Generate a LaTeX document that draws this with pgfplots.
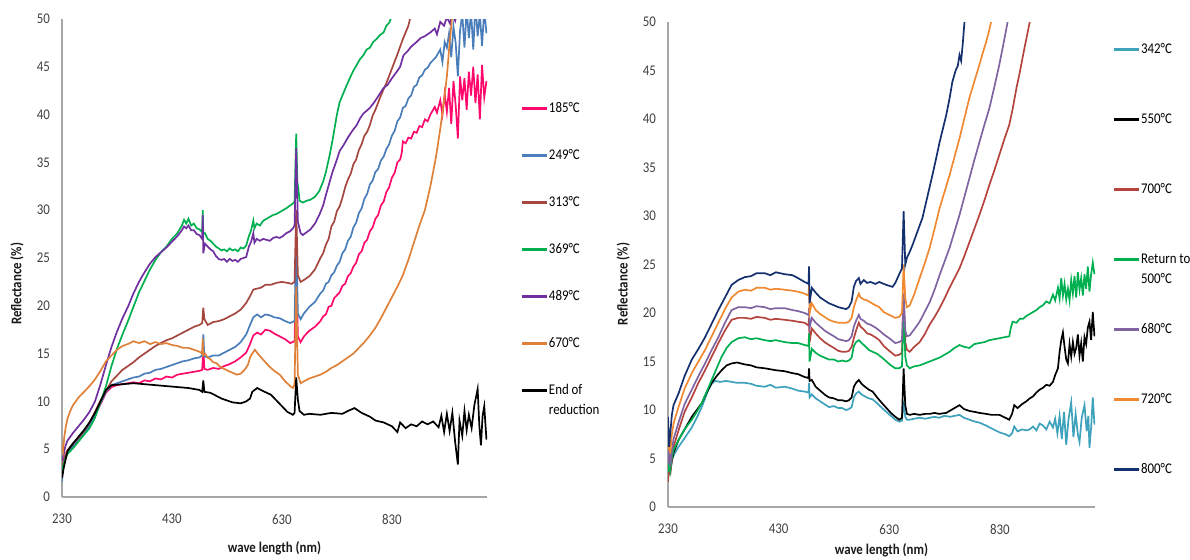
\documentclass[border=0pt]{standalone}
\usepackage{pgfplots}
\pgfplotsset{compat=1.18}
\usepackage{fontspec}
\setmainfont[FakeStretch=0.87]{Carlito}
\definecolor{axisgray}{HTML}{A6A6A6}
\definecolor{tickgray}{HTML}{404040}
\definecolor{cpink}{HTML}{FF0A6C}
\definecolor{cblue}{HTML}{4A7EBB}
\definecolor{cbrown}{HTML}{A5463F}
\definecolor{cgreen}{HTML}{00B050}
\definecolor{cpurple}{HTML}{7030A0}
\definecolor{corange}{HTML}{DF8138}
\definecolor{rteal}{HTML}{3EA2BC}
\definecolor{rbrown}{HTML}{B5443F}
\definecolor{rgreen}{HTML}{00B050}
\definecolor{rpurple}{HTML}{8064A2}
\definecolor{rorange}{HTML}{F08A32}
\definecolor{rnavy}{HTML}{14306E}
\tikzset{lt/.style={text height=6pt,text depth=1.5pt}}
\pgfplotsset{legend image code/.code={\draw[#1,line width=1.3pt] (0pt,0pt) -- (12.5pt,0pt);}}
\pgfplotsset{myax/.style={
  scale only axis, xmin=230, xmax=1003, ymin=0, ymax=50,
  axis x line=bottom, axis y line=left,
  axis line style={-, draw=axisgray, line width=0.7pt},
  xtick={230,430,630,830}, ytick={0,5,...,50},
  major tick length=0pt,
  tick label style={font=\fontsize{7.4}{8}\selectfont, text=tickgray},
  /pgf/number format/assume math mode=true,
  xticklabel style={yshift=-5pt},
  yticklabel style={xshift=-2.5pt},
  label style={font=\bfseries\fontsize{7.4}{8}\selectfont, text=black!90},
  xlabel={wave length (nm)}, ylabel={Reflectance (\%)},
  every axis plot/.append style={line width=0.85pt, mark=none},
  legend style={draw=none, fill=none, inner sep=0pt, anchor=north west,
    font=\fontsize{7.4}{10}\selectfont, cells={anchor=west}, nodes={inner sep=0.5pt}},
  legend cell align=left}}
\begin{document}
\begin{tikzpicture}
\path[use as bounding box] (0pt,0pt) rectangle (595pt,279.5pt);
% ---------------- left panel
\begin{axis}[myax, at={(31pt,31pt)}, anchor=south west, width=212.5pt, height=239pt,
  xlabel style={at={(axis description cs:0.5,-0.1067)}, anchor=center},
  ylabel style={at={(axis description cs:-0.106,0.446)}, anchor=center},
  legend style={at={(axis description cs:1.0776,0.8316)}, row sep=15pt}]
\addplot[cpink] coordinates {(230,1.8)(232,3.5)(236,4.3)(240,4.8)(250,5.5)(260,6.1)(270,6.8)(280,7.6)(290,8.6)(300,9.7)(310,10.9)(320,11.5)(330,11.7)(340,11.8)(350,11.9)(360,12.0)(370,11.9)(380,12.2)(390,12.1)(400,12.4)(410,12.3)(420,12.6)(430,12.5)(440,12.8)(450,12.9)(460,13.0)(470,13.1)(480,13.2)(485,13.3)(487,15.5)(489,13.4)(495,13.3)(505,13.5)(515,13.4)(525,13.7)(535,13.9)(545,14.2)(555,14.6)(565,15.1)(572,16.0)(578,16.9)(585,17.2)(592,17.0)(600,17.5)(608,17.4)(616,17.1)(626,16.8)(636,16.5)(645,16.1)(653,16.3)(656,24.0)(659,16.8)(664,16.2)(670,16.8)(680,17.4)(690,17.8)(700,18.4)(705,18.9)(710,19.1)(715,19.9)(720,20.0)(725,20.8)(730,21.1)(735,21.4)(740,22.1)(745,22.3)(750,23.1)(755,23.4)(760,24.1)(765,24.5)(770,25.4)(775,25.7)(780,26.6)(785,26.9)(790,27.8)(795,28.2)(800,29.1)(805,29.5)(810,30.5)(815,30.9)(820,31.9)(825,32.4)(830,33.4)(835,33.9)(840,35.0)(845,35.3)(848,36.0)(850,37.2)(855,37.0)(860,37.6)(865,37.5)(870,38.2)(875,38.1)(880,38.8)(885,38.7)(890,39.5)(895,39.3)(900,40.0)(908,40.8)(912,40.2)(918,41.5)(922,40.0)(926,42.2)(930,40.3)(934,42.8)(938,39.0)(942,43.5)(946,41.0)(950,37.5)(954,44.0)(958,41.5)(962,43.8)(966,40.5)(970,44.5)(974,42.0)(978,45.0)(982,41.2)(986,44.2)(990,39.5)(994,45.2)(998,41.8)(1002,43.5)};
\addlegendentry[lt]{185°C}
\addplot[cblue] coordinates {(230,1.6)(232,3.3)(236,4.2)(240,4.7)(250,5.3)(260,5.9)(270,6.6)(280,7.5)(290,8.6)(300,9.8)(310,11.0)(320,11.7)(330,11.9)(340,12.1)(350,12.3)(360,12.5)(370,12.6)(380,12.9)(390,13.0)(400,13.3)(410,13.4)(420,13.6)(430,13.8)(440,14.0)(450,14.2)(460,14.3)(470,14.5)(480,14.6)(485,14.8)(487,17.0)(489,14.7)(495,14.6)(505,14.8)(515,14.8)(525,15.1)(535,15.4)(545,15.7)(555,16.2)(565,17.0)(572,18.0)(578,18.8)(585,19.1)(592,18.8)(600,19.1)(608,19.0)(616,18.8)(626,18.7)(636,18.4)(645,18.2)(653,18.4)(656,27.0)(659,19.2)(664,18.6)(670,19.2)(680,19.9)(690,20.4)(700,21.3)(705,21.6)(710,22.3)(715,22.5)(720,23.2)(725,23.5)(730,24.2)(735,24.6)(740,25.5)(745,25.9)(750,26.8)(755,27.2)(760,28.2)(765,28.7)(770,29.7)(775,30.2)(780,31.2)(785,31.7)(790,32.7)(795,33.1)(800,34.0)(805,34.3)(810,35.2)(815,35.6)(820,36.4)(825,36.9)(830,37.8)(835,38.3)(840,39.3)(845,39.7)(850,40.7)(855,40.9)(860,41.7)(865,42.0)(870,42.9)(875,43.1)(880,43.9)(885,44.1)(890,44.7)(895,44.9)(900,45.4)(910,46.0)(918,46.8)(922,45.5)(926,47.6)(930,47.0)(934,48.5)(938,46.0)(942,49.2)(946,47.5)(950,44.0)(954,48.8)(958,50.5)(962,47.0)(966,51.0)(970,48.0)(974,50.8)(978,46.8)(982,51.5)(986,48.2)(990,50.5)(994,47.2)(998,51.0)(1002,48.5)};
\addlegendentry[lt]{249°C}
\addplot[cbrown] coordinates {(230,2.2)(232,3.5)(236,4.4)(240,4.9)(250,5.6)(260,6.2)(270,6.9)(280,7.8)(290,8.9)(300,10.1)(310,11.1)(320,12.1)(330,12.7)(340,13.3)(350,13.7)(360,14.1)(370,14.6)(380,15.0)(390,15.4)(400,15.8)(410,16.1)(420,16.4)(430,16.6)(440,16.9)(450,17.2)(460,17.5)(470,17.8)(480,18.0)(485,18.2)(487,19.8)(489,18.6)(495,18.0)(505,18.3)(515,18.4)(525,18.6)(535,18.9)(545,19.2)(555,19.6)(565,20.3)(572,21.0)(578,21.7)(585,21.8)(592,21.9)(600,22.2)(610,22.2)(620,22.4)(630,22.5)(640,22.4)(648,22.3)(653,22.5)(656,30.0)(659,23.2)(664,22.5)(670,22.7)(680,23.1)(690,23.8)(700,25.0)(705,25.5)(710,26.4)(715,27.0)(720,28.3)(725,28.8)(730,29.9)(735,30.4)(740,31.3)(745,32.4)(750,33.2)(755,33.8)(760,34.8)(765,35.3)(770,36.3)(775,36.9)(780,37.8)(785,38.2)(790,38.9)(795,39.9)(800,40.5)(810,42.0)(820,43.3)(830,44.8)(840,46.3)(850,47.9)(860,49.3)(865,50.5)(870,52)};
\addlegendentry[lt]{313°C}
\addplot[cgreen] coordinates {(230,2.5)(232,3.2)(236,4.0)(240,4.5)(250,5.1)(260,5.8)(270,6.5)(280,7.2)(290,8.3)(300,9.9)(310,11.6)(320,13.7)(330,15.5)(340,17.0)(350,18.4)(360,19.9)(370,21.4)(380,22.6)(390,23.8)(400,24.8)(410,25.6)(420,26.2)(430,27.0)(440,27.6)(448,28.4)(452,29.0)(456,28.6)(460,29.1)(465,28.4)(470,28.6)(475,28.1)(480,28.0)(485,27.7)(486,30.0)(487,27.5)(490,27.6)(495,27.0)(500,26.8)(505,26.5)(510,26.2)(515,26.0)(520,25.8)(525,25.9)(530,25.7)(535,26.0)(540,25.8)(545,25.9)(550,25.7)(555,26.1)(560,26.0)(565,26.3)(570,27.3)(574,27.9)(578,28.9)(580,28.1)(584,28.6)(590,28.4)(596,28.9)(602,29.1)(608,29.3)(614,29.5)(620,29.6)(626,29.8)(632,30.0)(638,30.2)(645,30.5)(650,30.7)(653,30.9)(656,38.0)(658,33.0)(660,32.2)(662,31.0)(668,30.8)(675,31.0)(682,31.1)(690,31.4)(698,32.0)(705,33.0)(710,34.0)(717,35.8)(722,37.3)(730,40.0)(735,41.3)(740,42.0)(748,43.1)(755,44.0)(760,44.6)(766,45.2)(772,45.8)(778,46.2)(784,46.8)(790,47.0)(796,47.6)(802,47.9)(808,48.3)(815,48.6)(820,49.3)(825,49.6)(830,50.3)(835,51)};
\addlegendentry[lt]{369°C}
\addplot[cpurple] coordinates {(230,3.8)(232,4.2)(236,5.3)(240,5.9)(250,6.7)(260,7.4)(270,8.1)(280,8.9)(290,10.0)(300,11.8)(310,13.8)(320,15.7)(330,17.3)(340,18.7)(350,19.9)(360,21.3)(370,22.5)(380,23.5)(390,24.4)(400,25.1)(410,25.6)(420,26.1)(430,26.7)(440,27.3)(448,27.9)(452,28.3)(456,28.1)(460,28.4)(465,27.9)(470,27.9)(475,27.5)(480,27.4)(485,27.0)(486,29.5)(487,25.5)(490,26.5)(495,26.2)(500,25.9)(505,25.7)(510,25.2)(515,24.9)(520,24.8)(525,24.9)(530,24.6)(535,24.9)(540,24.7)(545,24.8)(550,24.6)(555,24.9)(560,25.0)(565,25.1)(570,26.2)(574,26.7)(578,27.6)(580,26.6)(584,27.0)(590,26.8)(596,27.0)(602,26.9)(608,26.8)(614,27.1)(620,27.2)(626,27.1)(632,27.3)(638,27.6)(645,27.8)(650,28.1)(653,28.4)(656,36.5)(659,28.8)(664,27.6)(668,27.4)(675,27.7)(682,28.0)(690,28.6)(698,29.5)(705,30.5)(710,31.6)(717,33.0)(722,34.0)(730,35.3)(735,36.2)(742,36.8)(750,37.6)(758,38.3)(766,38.9)(772,39.6)(778,40.1)(784,40.4)(790,40.7)(798,41.3)(806,42.0)(815,42.8)(822,43.1)(830,43.8)(839,44.5)(845,45.0)(851,46.2)(858,46.6)(865,47.1)(875,47.6)(882,48.0)(890,48.2)(900,48.6)(908,49.0)(912,48.4)(918,49.7)(925,49.3)(930,50.2)(936,49.5)(940,50.6)(945,49.8)(950,51)(960,52)(1002,52)};
\addlegendentry[lt]{489°C}
\addplot[corange] coordinates {(230,5.5)(232,4.8)(234,6.2)(237,7.4)(240,8.2)(245,9.0)(250,9.6)(260,10.4)(270,11.0)(280,11.6)(290,12.3)(300,13.2)(310,14.2)(320,14.8)(330,15.4)(340,15.8)(350,16.0)(360,16.3)(370,16.1)(380,16.3)(390,16.0)(400,16.2)(410,16.0)(420,16.1)(430,15.9)(440,15.8)(450,15.6)(460,15.6)(470,15.4)(480,15.2)(485,15.0)(486,16.6)(487,14.8)(490,15.0)(495,14.6)(500,14.4)(505,14.1)(511,14.0)(518,13.6)(525,13.4)(532,13.2)(540,13.0)(548,12.8)(555,12.9)(562,13.3)(568,13.8)(572,14.6)(576,15.0)(581,15.4)(586,15.0)(592,14.6)(600,14.1)(608,13.6)(616,13.2)(626,12.8)(636,12.1)(645,11.6)(650,11.4)(653,11.8)(656,22.0)(659,12.8)(664,11.9)(670,12.1)(680,12.4)(690,12.6)(700,12.8)(710,13.1)(720,13.5)(730,13.8)(740,14.2)(750,14.6)(760,15.0)(770,15.6)(780,16.2)(790,16.9)(800,17.7)(810,18.7)(820,19.8)(830,20.9)(840,22.0)(850,23.2)(860,24.8)(870,26.6)(880,28.4)(890,30.0)(900,32.5)(910,35.5)(918,38.5)(925,41.5)(930,44.0)(935,47.5)(940,50.5)(945,53)};
\addlegendentry[lt]{670°C}
\addplot[black] coordinates {(230,2.0)(233,3.0)(240,4.8)(250,5.6)(260,6.3)(270,7.0)(280,7.8)(290,8.8)(300,10.0)(310,11.2)(320,11.7)(340,11.8)(360,11.9)(380,11.8)(400,11.7)(420,11.6)(440,11.5)(460,11.4)(480,11.2)(485,11.0)(487,12.2)(489,11.0)(500,10.9)(520,10.3)(540,9.9)(555,9.8)(565,10.0)(572,10.3)(576,11.0)(585,11.4)(595,11.1)(610,10.7)(625,9.8)(640,8.9)(650,8.6)(653,8.8)(656,12.5)(659,10.2)(662,9.0)(670,8.6)(680,8.7)(700,8.6)(720,8.8)(740,8.7)(750,9.0)(762,9.3)(775,8.8)(790,8.4)(800,8.0)(815,7.8)(830,7.4)(840,6.8)(845,7.8)(855,7.2)(865,7.6)(875,7.4)(885,7.9)(895,7.6)(905,7.9)(915,7.3)(920,8.5)(925,6.8)(930,8.7)(935,6.9)(940,8.8)(945,5.8)(950,3.4)(953,8.0)(958,6.4)(962,9.0)(966,7.0)(970,8.6)(975,7.2)(980,9.6)(986,11.3)(989,7.5)(992,5.4)(995,8.5)(998,9.5)(1002,6.0)};
\addlegendentry[lt]{\parbox[t]{40pt}{End of\\reduction}}
\end{axis}
% ---------------- right panel
\begin{axis}[myax, at={(334pt,26pt)}, anchor=south west, width=213.5pt, height=242.5pt, xmax=1002,
  xlabel style={at={(axis description cs:0.5,-0.0887)}, anchor=center},
  ylabel style={at={(axis description cs:-0.105,0.46)}, anchor=center},
  legend style={at={(axis description cs:1.040,0.9619)}, row sep=26.5pt}]
\addplot[rteal] coordinates {(230,4.0)(232,5.5)(234,3.5)(237,4.8)(240,5.3)(249,6.2)(260,7.1)(273,8.2)(282,9.2)(291,10.3)(297,11.2)(303,12.1)(309,12.7)(315,13.0)(325,12.9)(335,13.0)(345,12.9)(355,12.8)(369,12.8)(380,12.7)(390,12.5)(405,12.4)(415,12.6)(425,12.3)(441,12.4)(455,12.2)(465,12.0)(477,11.9)(484,11.8)(485,12.8)(486,11.3)(490,11.6)(497,11.2)(505,10.9)(513,10.6)(521,10.3)(530,10.4)(538,10.2)(545,10.2)(552,10.0)(557,10.1)(562,10.3)(566,11.3)(570,11.7)(575,11.9)(580,11.6)(586,11.4)(593,11.2)(600,11.1)(608,10.7)(617,10.2)(625,9.8)(633,9.4)(641,9.0)(648,8.8)(653,8.9)(656,10.9)(659,9.3)(662,9.0)(667,9.0)(675,9.1)(685,9.2)(695,9.1)(703,9.2)(712,9.3)(720,9.2)(730,9.4)(740,9.3)(757,9.5)(765,9.2)(775,9.0)(785,8.8)(793,8.7)(805,8.4)(815,8.1)(829,7.7)(840,7.5)(847,7.3)(852,7.6)(856,8.3)(862,7.8)(870,8.0)(878,7.9)(884,8.0)(890,8.3)(896,7.9)(902,8.6)(908,8.4)(914,8.0)(920,8.8)(926,8.2)(930,9.1)(934,7.6)(938,9.4)(942,7.0)(946,9.8)(950,6.4)(954,9.0)(959,10.8)(963,7.2)(967,9.6)(971,7.5)(974,6.7)(978,9.2)(983,10.5)(987,7.8)(990,9.4)(992,6.1)(995,8.2)(998,11.3)(1001,8.5)};
\addlegendentry[lt]{342°C}
\addplot[black] coordinates {(230,3.3)(232,5.0)(234,3.8)(237,4.8)(240,5.6)(249,6.9)(260,8.0)(273,9.3)(282,10.0)(291,10.7)(300,11.8)(309,12.8)(318,13.5)(327,14.1)(336,14.6)(345,14.8)(355,14.9)(369,14.7)(380,14.6)(390,14.4)(405,14.3)(415,14.2)(425,14.1)(441,14.0)(455,13.8)(465,13.7)(477,13.4)(484,13.3)(485,14.3)(486,13.0)(490,13.1)(497,12.4)(505,12.0)(513,11.6)(521,11.3)(530,11.2)(538,11.0)(545,11.0)(552,10.9)(557,11.0)(562,11.3)(566,12.4)(570,12.8)(575,13.1)(580,12.7)(586,12.4)(593,12.1)(600,11.9)(608,11.3)(617,10.7)(625,10.2)(633,9.7)(641,9.3)(648,9.0)(653,9.2)(656,14.3)(659,10.5)(662,9.6)(667,9.5)(675,9.6)(685,9.5)(695,9.6)(703,9.6)(712,9.7)(720,9.6)(733,9.7)(745,10.1)(757,10.5)(765,10.1)(775,9.9)(785,9.8)(793,9.7)(805,9.6)(815,9.5)(829,9.5)(840,9.2)(847,9.0)(852,9.6)(856,10.5)(862,10.2)(870,10.6)(878,10.9)(884,11.2)(890,11.4)(896,11.8)(902,12.1)(908,12.3)(914,12.6)(920,12.5)(926,12.9)(930,13.6)(935,14.3)(938,16.0)(941,17.2)(944,18.0)(947,16.5)(950,15.2)(953,14.8)(956,16.8)(959,15.5)(962,17.0)(965,15.8)(968,16.4)(971,17.8)(974,15.6)(977,16.9)(980,15.0)(983,17.5)(986,16.8)(989,18.5)(992,19.1)(995,17.2)(998,20.1)(1001,17.6)};
\addlegendentry[lt]{550°C}
\addplot[rbrown] coordinates {(230,2.6)(232,4.5)(234,3.3)(237,5.0)(240,6.2)(249,7.9)(260,9.8)(273,11.3)(285,12.8)(297,14.1)(309,15.5)(321,16.9)(333,18.2)(345,19.3)(357,19.5)(369,19.5)(380,19.4)(390,19.6)(405,19.5)(415,19.3)(425,19.4)(441,19.3)(455,19.2)(465,19.1)(477,19.0)(484,18.7)(485,19.5)(486,17.0)(490,18.4)(497,17.9)(505,17.4)(513,17.0)(521,16.7)(530,16.4)(538,16.1)(545,16.0)(552,16.0)(557,16.1)(562,16.5)(566,17.4)(570,18.2)(575,19.0)(578,18.6)(584,18.3)(590,17.9)(596,17.8)(605,17.5)(612,17.2)(620,16.6)(630,16.1)(641,15.6)(648,15.7)(653,15.9)(656,22.0)(659,17.0)(662,16.2)(667,16.0)(675,16.5)(685,17.0)(694,17.8)(703,18.8)(712,19.6)(721,20.5)(730,21.5)(739,22.6)(748,23.6)(757,24.6)(766,25.9)(775,27.3)(784,28.7)(793,30.1)(802,31.6)(811,33.2)(820,34.7)(829,36.3)(838,37.9)(847,39.4)(853,41.0)(860,43.2)(866,44.8)(872,46.6)(878,48.3)(884,50.0)(888,52)};
\addlegendentry[lt]{700°C}
\addplot[rgreen] coordinates {(230,3.6)(232,5.0)(234,3.8)(237,5.2)(240,5.9)(249,6.9)(260,8.0)(273,9.0)(282,9.8)(291,10.7)(300,11.9)(309,13.1)(318,14.3)(327,15.5)(336,16.4)(345,17.0)(357,17.4)(369,17.5)(380,17.3)(390,17.4)(405,17.2)(415,17.1)(425,17.2)(441,17.0)(455,16.9)(465,16.9)(477,16.7)(484,16.6)(485,17.9)(486,15.0)(490,16.3)(497,15.9)(505,15.6)(513,15.4)(521,15.2)(530,15.2)(538,15.0)(545,15.1)(552,15.0)(557,15.1)(562,15.4)(566,16.6)(570,17.0)(575,17.2)(580,16.9)(586,16.6)(593,16.2)(600,16.0)(608,15.8)(617,15.4)(625,15.0)(633,14.6)(641,14.3)(648,14.3)(653,14.5)(656,20.5)(659,15.5)(662,14.6)(667,14.3)(675,14.5)(685,14.6)(694,14.8)(703,15.0)(712,15.2)(721,15.4)(730,15.7)(739,16.0)(748,16.4)(757,16.7)(766,16.5)(775,16.4)(784,16.8)(793,16.9)(802,17.0)(811,17.2)(820,17.3)(829,17.4)(838,17.5)(847,17.6)(850,18.5)(853,19.1)(860,19.0)(866,19.4)(872,19.4)(878,19.7)(884,19.9)(890,20.1)(896,20.3)(902,20.6)(908,20.8)(914,21.2)(920,21.0)(926,21.9)(930,21.3)(935,22.6)(938,21.5)(941,23.6)(944,21.8)(947,23.0)(950,21.4)(953,22.5)(956,21.3)(959,23.4)(962,22.0)(965,23.8)(968,21.6)(971,24.2)(974,22.4)(977,23.6)(980,21.8)(983,24.0)(986,22.5)(989,24.8)(992,22.2)(995,24.0)(998,25.2)(1001,24.0)};
\addlegendentry[lt]{\parbox[t]{40pt}{Return to\\500°C}}
\addplot[rpurple] coordinates {(230,4.5)(232,6.0)(234,4.2)(237,5.8)(240,7.0)(249,8.7)(260,10.6)(273,12.1)(285,13.5)(297,14.8)(309,16.2)(321,17.5)(333,19.0)(345,20.3)(357,20.6)(369,20.6)(380,20.5)(390,20.7)(405,20.6)(415,20.4)(425,20.5)(441,20.5)(455,20.3)(465,20.2)(477,20.0)(484,19.8)(485,20.5)(486,18.5)(490,19.5)(497,19.0)(505,18.6)(513,18.2)(521,17.9)(530,17.6)(538,17.3)(545,17.2)(552,17.1)(557,17.2)(562,17.6)(566,18.6)(570,19.2)(575,19.8)(578,19.4)(584,19.2)(590,18.9)(596,18.8)(605,18.5)(612,18.2)(620,17.8)(630,17.4)(641,16.9)(648,17.0)(653,17.2)(656,22.0)(659,18.2)(662,17.6)(667,17.7)(675,18.3)(685,19.1)(694,20.1)(703,21.1)(712,22.4)(721,23.9)(730,25.3)(739,26.7)(748,28.4)(757,30.1)(766,32.0)(775,33.9)(784,35.8)(793,37.6)(802,39.4)(811,41.1)(820,43.3)(829,45.6)(836,47.6)(844,50.0)(848,52)};
\addlegendentry[lt]{680°C}
\addplot[rorange] coordinates {(230,5.9)(232,7.0)(234,5.5)(237,7.5)(240,8.6)(249,10.3)(260,12.2)(273,13.8)(285,15.0)(297,16.2)(309,17.6)(321,19.0)(333,20.4)(345,21.6)(357,22.2)(369,22.4)(380,22.3)(390,22.6)(405,22.6)(415,22.4)(425,22.5)(441,22.4)(455,22.3)(465,22.2)(477,22.0)(484,21.8)(485,23.0)(486,20.0)(490,21.0)(497,20.3)(505,19.9)(513,19.6)(521,19.3)(530,19.1)(538,19.0)(545,19.0)(552,19.0)(557,19.1)(562,19.5)(566,20.6)(570,21.3)(575,22.0)(578,21.6)(584,21.4)(590,21.3)(596,21.1)(605,20.8)(612,20.6)(620,20.1)(630,19.8)(641,19.5)(648,19.6)(653,20.0)(656,25.0)(659,21.5)(662,20.6)(667,20.8)(675,21.9)(685,23.6)(694,25.1)(703,26.7)(712,28.7)(721,30.8)(730,32.5)(739,34.2)(748,36.1)(757,38.0)(766,40.1)(775,42.2)(784,43.9)(793,45.6)(799,46.8)(805,47.9)(810,49.0)(815,50.2)(818,52)};
\addlegendentry[lt]{720°C}
\addplot[rnavy] coordinates {(230,9.3)(232,6.2)(234,7.5)(237,9.5)(240,10.5)(249,11.7)(260,13.5)(273,15.2)(285,16.3)(297,17.5)(309,18.9)(321,20.3)(333,21.6)(345,22.9)(357,23.4)(369,23.7)(380,23.8)(390,24.1)(405,24.1)(415,23.9)(425,24.2)(441,24.0)(455,23.9)(465,23.6)(477,23.2)(484,23.0)(485,24.8)(486,21.0)(490,22.6)(497,22.1)(505,21.6)(513,21.3)(521,21.0)(530,20.8)(538,20.6)(545,20.5)(552,20.4)(557,20.6)(562,21.2)(566,22.7)(570,23.3)(575,23.6)(578,23.0)(584,23.4)(590,23.1)(596,23.2)(605,23.0)(612,23.2)(620,23.0)(630,22.8)(636,22.7)(641,23.1)(648,24.0)(653,24.6)(656,30.5)(659,25.0)(662,25.7)(667,26.3)(672,27.0)(681,28.4)(690,29.8)(699,32.0)(708,34.2)(715,36.0)(721,37.6)(727,39.0)(733,40.4)(739,42.1)(744,43.8)(750,45.0)(754,45.5)(757,46.6)(760,46.0)(763,47.8)(766,50.0)(768,52)};
\addlegendentry[lt]{800°C}
\end{axis}
\end{tikzpicture}
\end{document}
